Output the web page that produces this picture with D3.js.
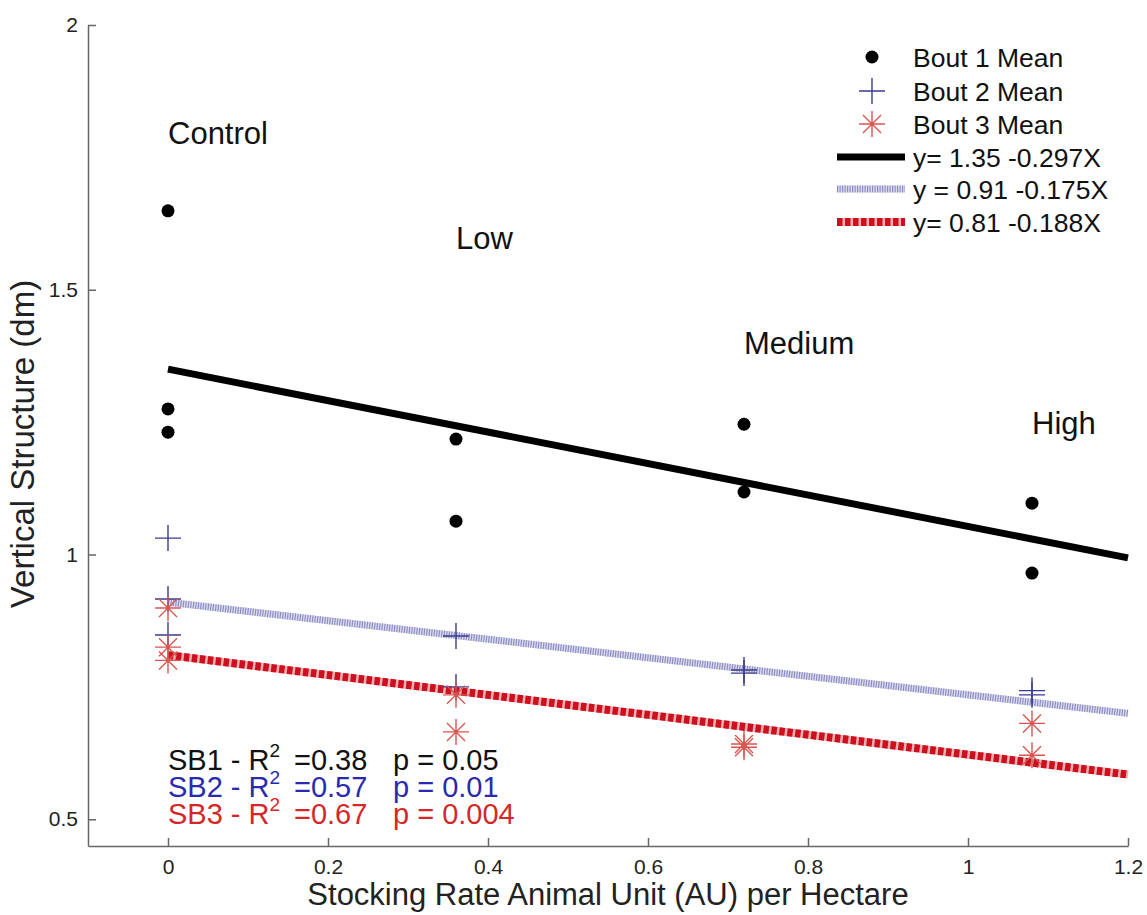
<!DOCTYPE html>
<html>
<head>
<meta charset="utf-8">
<script src="https://cdn.jsdelivr.net/npm/d3@7"></script>
<style>
  body { margin: 0; background: #fff; }
  svg { font-family: "Liberation Sans", Arial, sans-serif; }
  .axis path, .axis line { stroke: #666; stroke-width: 1.5; }
  .axis text { font-size: 21px; fill: #222; }
</style>
</head>
<body>
<svg id="plot" width="1147" height="915"></svg>
<script>

// stocking rate (AU / ha) and mean vertical structure (dm) per bout
const bout1X = [0, 0, 0, 0.36, 0.36, 0.72, 0.72, 1.08, 1.08];
const bout1Y = [1.649, 1.275, 1.231, 1.218, 1.063, 1.246, 1.118, 1.097, 0.965];
const bout2X = [0, 0, 0, 0.36, 0.36, 0.72, 0.72, 1.08, 1.08];
const bout2Y = [1.031, 0.916, 0.848, 0.846, 0.750, 0.782, 0.776, 0.743, 0.735];
const bout3X = [0, 0, 0, 0.36, 0.36, 0.72, 0.72, 1.08, 1.08];
const bout3Y = [0.899, 0.825, 0.800, 0.735, 0.665, 0.642, 0.636, 0.681, 0.621];

// regression fits y = a + b*x
const fitIntercepts = [1.35, 0.91, 0.81];
const fitSlopes = [-0.297, -0.175, -0.188];
const fitRange = [0, 1.2];
const fitLabels = ['y= 1.35 -0.297X', 'y = 0.91 -0.175X', 'y= 0.81 -0.188X'];
const boutLabels = ['Bout 1 Mean', 'Bout 2 Mean', 'Bout 3 Mean'];

// treatment labels
const categories = ['Control', 'Low', 'Medium', 'High'];
const categoryX = [0, 0.36, 0.72, 1.08];
const categoryY = [1.796, 1.598, 1.399, 1.248];

// stats
const statNames = ['SB1', 'SB2', 'SB3'];
const statR2 = ['0.38', '0.57', '0.67'];
const statP = ['0.05', '0.01', '0.004'];

const xTicks = [0, 0.2, 0.4, 0.6, 0.8, 1, 1.2];
const yTicks = [0.5, 1, 1.5, 2];

let svg = d3.select('#plot'),
    margin = {top: 25, left: 88},
    width = 1040,
    height = 821;

let x = d3.scaleLinear().domain([-0.1, 1.2]).range([0, width]),
    y = d3.scaleLinear().domain([0.4495, 2]).range([height, 0]);

let g = svg.append('g')
    .attr('transform', 'translate(' + margin.left + ',' + margin.top + ')');

g.append('g')
    .attr('class', 'axis axis--x')
    .attr('transform', 'translate(0,' + height + ')')
    .call(d3.axisBottom(x).tickValues(xTicks).tickFormat(d => String(d))
        .tickSizeInner(-8).tickSizeOuter(0).tickPadding(13));

g.append('g')
    .attr('class', 'axis axis--y')
    .call(d3.axisLeft(y).tickValues(yTicks).tickFormat(d => String(d))
        .tickSizeInner(-8).tickSizeOuter(0).tickPadding(10));

// axis titles
svg.append('text')
    .attr('x', 608).attr('y', 905)
    .attr('text-anchor', 'middle')
    .style('font-size', '31px').style('fill', '#222')
    .text('Stocking Rate Animal Unit (AU) per Hectare');

svg.append('text')
    .attr('transform', 'translate(34,444) rotate(-90)')
    .attr('text-anchor', 'middle')
    .style('font-size', '33px').style('fill', '#222')
    .text('Vertical Structure (dm)');

// fit lines
let line = d3.line().x(d => x(d[0])).y(d => y(d[1]));
let fitPts = i => fitRange.map(v => [v, fitIntercepts[i] + fitSlopes[i] * v]);

function drawFit(sel, d, i) {
    if (i === 0) {
        sel.append('path').attr('d', d)
            .attr('fill', 'none').attr('stroke', '#000').attr('stroke-width', 7);
    } else if (i === 1) {
        sel.append('path').attr('d', d)
            .attr('fill', 'none').attr('stroke', '#dcdcef').attr('stroke-width', 7);
        sel.append('path').attr('d', d)
            .attr('fill', 'none').attr('stroke', '#8d8dc4').attr('stroke-width', 7)
            .attr('stroke-dasharray', '1.2,1.3');
    } else {
        sel.append('path').attr('d', d)
            .attr('fill', 'none').attr('stroke', '#f0b0b0').attr('stroke-width', 8);
        sel.append('path').attr('d', d)
            .attr('fill', 'none').attr('stroke', '#cc1020').attr('stroke-width', 8)
            .attr('stroke-dasharray', '5.5,2.5');
    }
}
[0, 1, 2].forEach(i => drawFit(g.append('g'), line(fitPts(i)), i));

// markers
const plusPath = 'M-13,0H13M0,-13V13';
const starPath = 'M-13,0H13M0,-13V13M-9,-9L9,9M-9,9L9,-9';

g.selectAll('.dot')
    .data(bout1X.map((v, i) => [v, bout1Y[i]]))
    .enter().append('circle')
    .attr('class', 'dot')
    .attr('r', 6.5)
    .attr('cx', d => x(d[0]))
    .attr('cy', d => y(d[1]))
    .attr('fill', '#000');

g.selectAll('.plus')
    .data(bout2X.map((v, i) => [v, bout2Y[i]]))
    .enter().append('path')
    .attr('class', 'plus')
    .attr('d', plusPath)
    .attr('transform', d => 'translate(' + x(d[0]) + ',' + y(d[1]) + ')')
    .attr('stroke', '#3b3b8e').attr('stroke-width', 1.4).attr('fill', 'none');

g.selectAll('.star')
    .data(bout3X.map((v, i) => [v, bout3Y[i]]))
    .enter().append('path')
    .attr('class', 'star')
    .attr('d', starPath)
    .attr('transform', d => 'translate(' + x(d[0]) + ',' + y(d[1]) + ')')
    .attr('stroke', '#d8564f').attr('stroke-width', 1.4).attr('fill', 'none');

// category labels
g.selectAll('.cat')
    .data(categories)
    .enter().append('text')
    .attr('class', 'cat')
    .attr('x', (d, i) => x(categoryX[i]))
    .attr('y', (d, i) => y(categoryY[i]))
    .attr('dy', '0.35em')
    .style('font-size', '31px').style('fill', '#111')
    .text(d => d);

// legend
let legend = svg.append('g');
const legendRows = [57, 91, 124, 157, 189, 222];
const legendText = boutLabels.concat(fitLabels);

legend.append('circle').attr('cx', 872).attr('cy', legendRows[0]).attr('r', 6.5).attr('fill', '#000');
legend.append('path').attr('d', plusPath)
    .attr('transform', 'translate(872,' + legendRows[1] + ')')
    .attr('stroke', '#3b3b8e').attr('stroke-width', 1.4);
legend.append('path').attr('d', starPath)
    .attr('transform', 'translate(872,' + legendRows[2] + ')')
    .attr('stroke', '#d8564f').attr('stroke-width', 1.4);

[0, 1, 2].forEach(i => {
    let yy = legendRows[3 + i];
    drawFit(legend.append('g'), d3.line()([[837, yy], [905, yy]]), i);
});

legend.selectAll('.ltext')
    .data(legendText)
    .enter().append('text')
    .attr('class', 'ltext')
    .attr('x', 913)
    .attr('y', (d, i) => legendRows[i])
    .attr('dy', '0.36em')
    .style('font-size', '26.5px').style('fill', '#111')
    .text(d => d);

// stats annotation
const statColors = ['#111', '#2a2ab0', '#d42828'];
const statBase = [770, 797, 824];
statNames.forEach((name, i) => {
    let t = svg.append('g').style('fill', statColors[i]).style('font-size', '29px');
    let lbl = t.append('text').attr('x', 168).attr('y', statBase[i]);
    lbl.append('tspan').text(name + ' - R');
    lbl.append('tspan').attr('dy', -13).style('font-size', '19px').text('2');
    t.append('text').attr('x', 294).attr('y', statBase[i]).text('=' + statR2[i]);
    t.append('text').attr('x', 393).attr('y', statBase[i]).text('p = ' + statP[i]);
});

</script>
</body>
</html>
